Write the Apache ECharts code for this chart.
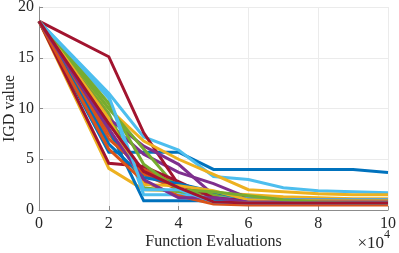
<!DOCTYPE html>
<html><head><meta charset="utf-8">
<script src="https://cdn.jsdelivr.net/npm/echarts@6/dist/echarts.min.js"></script>
<style>html,body{margin:0;padding:0;background:#fff}#c{width:399px;height:253px}</style>
</head><body><div id="c"></div>
<script>
const xs = [0, 2, 3, 4, 5, 6, 7, 8, 9, 10];
const xTicks = ['0', '2', '4', '6', '8', '10'];
const yTicks = ['0', '5', '10', '15', '20'];
const run1  = [18.6, 5.7, 5.7, 5.7, 4.0, 4.0, 4.0, 4.0, 4.0, 3.7];
const run2  = [18.6, 7.5, 3.5, 2.0, 1.0, 0.8, 0.8, 0.8, 0.8, 0.8];
const run3  = [18.6, 4.1, 2.0, 1.9, 1.7, 1.5, 1.3, 1.2, 1.1, 1.1];
const run4  = [18.6, 8.5, 5.5, 3.7, 2.6, 1.2, 1.0, 1.0, 0.9, 0.9];
const run5  = [18.6, 9.5, 2.2, 1.8, 1.0, 0.7, 0.6, 0.6, 0.6, 0.6];
const run6  = [18.6, 11.5, 7.2, 5.9, 3.3, 3.0, 2.2, 1.9, 1.8, 1.7];
const run7  = [18.6, 15.1, 7.6, 2.5, 1.2, 1.0, 0.9, 0.9, 0.9, 0.9];
const run8  = [18.6, 8.0, 0.9, 0.9, 0.9, 0.9, 0.9, 0.9, 0.9, 0.9];
const run9  = [18.6, 7.0, 4.0, 2.5, 1.5, 0.9, 0.8, 0.8, 0.8, 0.8];
const run10 = [18.6, 10.0, 6.8, 5.0, 3.5, 2.0, 1.8, 1.6, 1.5, 1.5];
const run11 = [18.6, 9.0, 6.3, 4.5, 1.5, 1.0, 1.0, 1.0, 1.0, 1.0];
const run12 = [18.6, 10.0, 6.0, 2.0, 1.5, 1.0, 0.9, 0.9, 0.9, 0.9];
const run13 = [18.6, 11.0, 1.5, 1.5, 1.2, 1.1, 1.0, 1.0, 1.0, 1.0];
const run14 = [18.6, 4.6, 4.3, 2.8, 1.2, 0.9, 0.9, 0.9, 0.9, 0.9];
const run15 = [18.6, 6.5, 3.2, 2.6, 1.8, 1.0, 0.9, 0.9, 0.9, 0.9];
const run16 = [18.6, 6.0, 2.8, 1.4, 0.6, 0.5, 0.5, 0.5, 0.5, 0.5];
const run17 = [18.6, 9.0, 2.5, 2.4, 1.9, 1.0, 0.9, 0.9, 0.9, 0.9];
const run18 = [18.6, 8.0, 3.0, 1.2, 1.2, 0.8, 0.8, 0.8, 0.8, 0.8];
const run19 = [18.6, 10.5, 4.5, 2.0, 1.8, 1.4, 1.0, 0.8, 0.7, 0.7];
const run20 = [18.6, 11.2, 2.0, 2.0, 0.8, 0.7, 0.7, 0.7, 0.7, 0.7];
const run21 = [18.6, 8.5, 3.8, 2.2, 0.8, 0.7, 0.7, 0.7, 0.7, 0.7];
const runs = [run1, run2, run3, run4, run5, run6, run7, run8, run9, run10, run11,
  run12, run13, run14, run15, run16, run17, run18, run19, run20, run21];
const colors = ['#0072BD', '#D95319', '#EDB120', '#7E2F8E', '#77AC30', '#4DBEEE', '#A2142F'];

const chart = echarts.init(document.getElementById('c'));
const font = 'Liberation Serif';
chart.setOption({
  animation: false,
  textStyle: { fontFamily: font },
  grid: { left: 39, right: 11, top: 7, bottom: 43, containLabel: false, outerBoundsMode: 'none' },
  xAxis: {
    type: 'value', min: 0, max: 10, interval: 2,
    name: 'Function Evaluations', nameLocation: 'middle', nameGap: 24, nameMoveOverlap: false,
    nameTextStyle: { fontFamily: font, fontSize: 16, color: '#262626' },
    axisLine: { show: true, lineStyle: { color: '#8c8c8c', width: 1 } },
    axisTick: { show: true, inside: true, length: 4, lineStyle: { color: '#8c8c8c' } },
    axisLabel: { fontFamily: font, fontSize: 16, color: '#262626', margin: 6,
      formatter: v => xTicks[xTicks.indexOf(String(v))] },
    splitLine: { show: true, lineStyle: { color: '#ebebeb', width: 1 } }
  },
  yAxis: {
    type: 'value', min: 0, max: 20, interval: 5,
    name: 'IGD value', nameLocation: 'middle', nameGap: 21, nameMoveOverlap: false,
    nameTextStyle: { fontFamily: font, fontSize: 16, color: '#262626' },
    axisLine: { show: true, lineStyle: { color: '#8c8c8c', width: 1 } },
    axisTick: { show: true, inside: true, length: 4, lineStyle: { color: '#8c8c8c' } },
    axisLabel: { fontFamily: font, fontSize: 16, color: '#262626', margin: 5,
      formatter: v => yTicks[yTicks.indexOf(String(v))] },
    splitLine: { show: true, lineStyle: { color: '#ebebeb', width: 1 } }
  },
  graphic: [{
    type: 'text', right: 9, bottom: 1,
    style: {
      text: '{a|×10}{b|4}',
      rich: {
        a: { fontFamily: font, fontSize: 17, fill: '#262626', verticalAlign: 'bottom' },
        b: { fontFamily: font, fontSize: 12, fill: '#262626', verticalAlign: 'top', padding: [0, 0, 11, 0] }
      }
    }
  }],
  series: runs.map((r, i) => ({
    type: 'line',
    data: xs.map((x, j) => [x, r[j]]),
    showSymbol: false,
    lineStyle: { color: colors[i % 7], width: 3, join: 'miter' },
    itemStyle: { color: colors[i % 7] }
  }))
});
</script></body></html>
